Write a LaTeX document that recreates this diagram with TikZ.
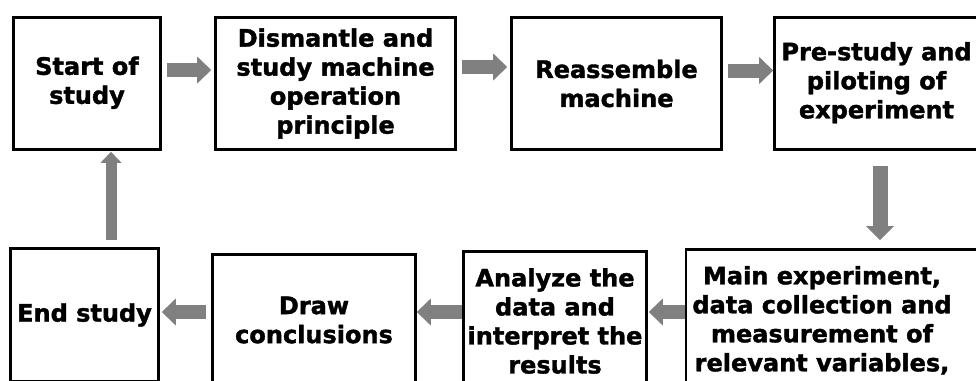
\documentclass[tikz,border=0pt]{standalone}
\usepackage{fontspec}
\setmainfont{DejaVu Sans}[BoldFeatures={FakeBold=1.6}]
\usetikzlibrary{arrows.meta,calc}
\definecolor{arrowgray}{HTML}{808080}
\tikzset{
  box/.style={draw=black, line width=2.6pt, fill=white, align=center,
    inner sep=0pt, font=\bfseries\fontsize{24}{29}\selectfont},
  fatarrow/.style={draw=arrowgray, line width=14pt,
    -{Triangle[length=14pt,width=27pt,line width=0pt]}},
  upfat/.style={draw=arrowgray, line width=11pt,
    -{Triangle[length=11pt,width=21pt,line width=0pt]}},
  downfat/.style={draw=arrowgray, line width=15pt,
    -{Triangle[length=14pt,width=28pt,line width=0pt]}}
}
\begin{document}
\begin{tikzpicture}[x=1pt,y=-1pt]
\useasboundingbox (0,0) rectangle (976,380);
\clip (0,0) rectangle (976,380);
% top row
\node[box, minimum width=147pt, minimum height=132pt] (start) at (87,83.5) {\raisebox{-5pt}{\begin{tabular}{@{}c@{}}Start of\\study\end{tabular}}};
\node[box, minimum width=240pt, minimum height=132pt] (dis) at (335.5,83.5) {Dismantle and\\study machine\\operation\\principle};
\node[box, minimum width=210pt, minimum height=132pt] (re) at (616.5,83.5) {Reassemble\\machine};
\node[box, minimum width=204pt, minimum height=132pt] (pre) at (876.5,83.5) {\raisebox{-3pt}{\begin{tabular}{@{}c@{}}Pre-study and\\piloting of\\experiment\end{tabular}}};
% bottom row
\node[box, minimum width=148pt, minimum height=133pt] (endn) at (84.5,315) {End study};
\node[box, minimum width=203pt, minimum height=131pt] (concl) at (314,320) {Draw\\conclusions};
\node[box, minimum width=183pt, minimum height=139pt] (ana) at (555,321) {Analyze the\\data and\\interpret the\\results};
\node[box, minimum width=300pt, minimum height=145pt] (main) at (836,322)
  {\begin{tabular}{@{}c@{}}Main experiment,\\data collection and\\measurement of\\relevant variables,\end{tabular}\hspace*{28pt}};
% connectors
\draw[fatarrow] ($(start.east)+(5,-13.5)$) -- ($(dis.west)+(-3,-13.5)$);
\draw[fatarrow] ($(dis.east)+(5,-16.5)$) -- ($(re.west)+(-3,-16.5)$);
\draw[fatarrow] ($(re.east)+(5,-13)$) -- ($(pre.west)+(0,-13)$);
\draw[downfat] ($(pre.south)+(3.5,15)$) -- ($(main.north)+(44,-8)$);
\draw[fatarrow] ($(main.west)+(0,-10)$) -- ($(ana.east)+(1,-9)$);
\draw[fatarrow] ($(ana.west)+(0,-9)$) -- ($(concl.east)+(0,-8)$);
\draw[fatarrow] ($(concl.west)+(-5,-8)$) -- ($(endn.east)+(2,-3)$);
\draw[upfat] ($(endn.north)+(26.5,-7)$) -- ($(start.south)+(24,1)$);
\end{tikzpicture}
\end{document}
